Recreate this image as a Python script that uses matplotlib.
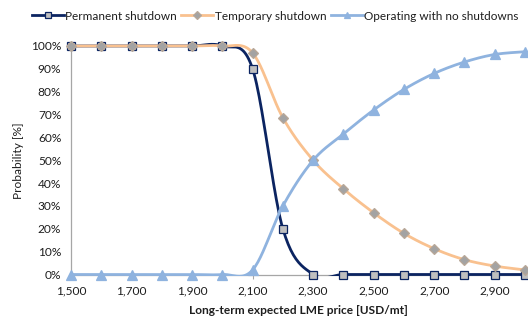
import matplotlib.pyplot as plt
import numpy as np
from matplotlib.patches import Rectangle
from matplotlib.ticker import FuncFormatter, MultipleLocator

plt.rcParams['font.family'] = ['Lato', 'DejaVu Sans']

prices = [1500, 1600, 1700, 1800, 1900, 2000, 2100, 2200,
          2300, 2400, 2500, 2600, 2700, 2800, 2900, 3000]
permanent = [1.00, 1.00, 1.00, 1.00, 1.00, 1.00, 0.90, 0.20,
             0.00, 0.00, 0.00, 0.00, 0.00, 0.00, 0.00, 0.00]
temporary = [1.00, 1.00, 1.00, 1.00, 1.00, 1.00, 0.97, 0.686,
             0.50, 0.375, 0.27, 0.18, 0.113, 0.065, 0.037, 0.02]
operating = [0.00, 0.00, 0.00, 0.00, 0.00, 0.00, 0.02, 0.30,
             0.50, 0.615, 0.72, 0.81, 0.88, 0.93, 0.963, 0.975]
price_ticks = [1500, 1700, 1900, 2100, 2300, 2500, 2700, 2900]

NAVY = "#0b2461"
ORANGE = "#f9c18f"
BLUE = "#8fb3df"
AXIS_GREY = "#a6a6a6"
TEXT = "#1e1e1e"
FS = 8.6


def smooth(x, y, steps=24):
    # Catmull-Rom curve through the points, like a spreadsheet "smoothed line"
    x = np.asarray(x, float)
    y = np.asarray(y, float)
    px = np.concatenate([[x[0]], x, [x[-1]]])
    py = np.concatenate([[y[0]], y, [y[-1]]])
    t = np.linspace(0, 1, steps)
    xs, ys = [], []
    for i in range(1, len(px) - 2):
        for p, out in ((px, xs), (py, ys)):
            p0, p1, p2, p3 = p[i - 1], p[i], p[i + 1], p[i + 2]
            out.append(0.5 * (2 * p1 + (-p0 + p2) * t
                              + (2 * p0 - 5 * p1 + 4 * p2 - p3) * t ** 2
                              + (-p0 + 3 * p1 - 3 * p2 + p3) * t ** 3))
    return np.concatenate(xs), np.concatenate(ys)


fig = plt.figure(figsize=(5.28, 3.2), dpi=100)
ax = fig.add_axes([71 / 528, 1 - 274.5 / 320, 454 / 528, 228.5 / 320])

clip = Rectangle((0, -0.008), 1, 1.2, transform=ax.transAxes,
                 facecolor="none", edgecolor="none")
ax.add_patch(clip)

series = [
    (permanent, NAVY, "s", "#bfbfbf", NAVY, 5.5, "Permanent shutdown"),
    (temporary, ORANGE, "D", "#a3a3a3", "#b9a898", 5.0, "Temporary shutdown"),
    (operating, BLUE, "^", BLUE, BLUE, 6.5, "Operating with no shutdowns"),
]

handles = []
for values, color, marker, face, edge, size, label in series:
    sx, sy = smooth(prices, values)
    line, = ax.plot(sx, sy, color=color, lw=2.0, solid_capstyle="round",
                    clip_on=True)
    line.set_clip_path(clip)
    ax.plot(prices, values, ls="none", marker=marker, ms=size,
            mfc=face, mec=edge, mew=0.9, clip_on=False)
    h, = ax.plot([], [], color=color, lw=2.0, marker=marker, ms=size * 0.75,
                 mfc=face, mec=edge, mew=0.9)
    handles.append((h, label))

ax.set_xlim(1500, 3000)
ax.set_ylim(0, 1)
ax.set_xticks(price_ticks)
ax.yaxis.set_major_locator(MultipleLocator(0.1))
ax.xaxis.set_major_formatter(FuncFormatter(lambda v, p: f"{v:,.0f}"))
ax.yaxis.set_major_formatter(FuncFormatter(lambda v, p: f"{v * 100:.0f}%"))

for side in ("top", "right"):
    ax.spines[side].set_visible(False)
for side in ("left", "bottom"):
    ax.spines[side].set_color(AXIS_GREY)
    ax.spines[side].set_linewidth(0.9)
    ax.spines[side].set_zorder(0.5)

ax.tick_params(axis="x", length=3, color=AXIS_GREY, pad=5, labelsize=FS,
               labelcolor=TEXT)
ax.tick_params(axis="y", length=0, pad=7, labelsize=FS, labelcolor=TEXT)

ax.set_xlabel("Long-term expected LME price [USD/mt]", fontsize=FS,
              fontweight="bold", color=TEXT, labelpad=6)
ax.set_ylabel("Probability [%]", fontsize=FS, color=TEXT, labelpad=5)

fig.legend([h for h, _ in handles], [l for _, l in handles],
           loc="center left", bbox_to_anchor=(27 / 528, 1 - 16 / 320),
           ncol=3, frameon=False, fontsize=8.5, handlelength=2.7,
           handletextpad=0.15, columnspacing=0.35, borderaxespad=0,
           labelcolor=TEXT)

fig.savefig("out.png", dpi=100)
